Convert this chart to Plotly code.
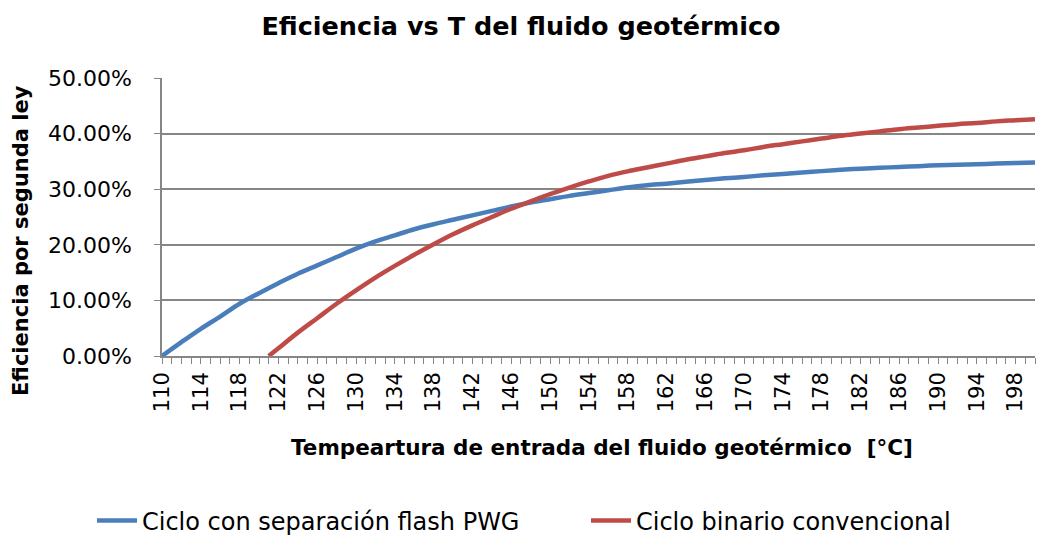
import numpy as np
import plotly.graph_objects as go

# temperatures (°C) and second-law efficiencies (%)
temp_flash = list(range(110, 201, 2))
eff_flash = [
    0.0, 2.5, 4.9, 7.1, 9.4, 11.3, 13.1, 14.8, 16.3, 17.8,
    19.3, 20.6, 21.7, 22.8, 23.7, 24.5, 25.3, 26.1, 26.9, 27.6,
    28.2, 28.8, 29.3, 29.8, 30.3, 30.7, 31.0, 31.35, 31.65, 31.95,
    32.2, 32.5, 32.75, 33.0, 33.25, 33.5, 33.7, 33.85, 34.0, 34.15,
    34.3, 34.4, 34.5, 34.6, 34.7, 34.8,
]

temp_binary = [121] + list(range(122, 201, 2))
eff_binary = [
    0.0, 1.4, 4.2, 6.8, 9.4, 11.8, 14.1, 16.2, 18.2, 20.1,
    21.9, 23.5, 25.0, 26.5, 27.8, 29.1, 30.3, 31.4, 32.4, 33.2,
    33.9, 34.6, 35.3, 35.9, 36.5, 37.0, 37.6, 38.1, 38.6, 39.1,
    39.6, 40.0, 40.4, 40.8, 41.1, 41.4, 41.7, 41.9, 42.2, 42.4,
    42.6,
]

BLUE = "#4A7EBB"
RED = "#BE4B48"
GRID = "#868686"
FONT = "DejaVu Sans"

L, R, T, B = 162, 9, 78, 181
PW = 1044 - L - R
PH = 537 - T - B

fig = go.Figure()
fig.add_scatter(
    x=temp_flash, y=np.array(eff_flash) / 100, name="Ciclo con separación flash PWG",
    mode="lines", line=dict(color=BLUE, width=4.5, shape="spline"), legend="legend",
)
fig.add_scatter(
    x=temp_binary, y=np.array(eff_binary) / 100, name="Ciclo binario convencional",
    mode="lines", line=dict(color=RED, width=4.5, shape="spline"), legend="legend2",
)

legend_style = dict(orientation="h", yanchor="middle", xanchor="left", y=(356 - 521) / PH,
                    font=dict(size=24), itemwidth=40, bgcolor="rgba(0,0,0,0)")

fig.update_layout(
    width=1044, height=537,
    template="plotly_white",
    paper_bgcolor="white", plot_bgcolor="white",
    font=dict(family=FONT, size=21, color="black"),
    margin=dict(l=L, r=R, t=T, b=B, autoexpand=False),
    title=dict(text="<b>Eficiencia vs T del fluido geotérmico</b>", x=521 / 1044, xref="container",
               xanchor="center", y=1 - 26 / 537, yanchor="middle", font=dict(size=25.5)),
    legend=dict(x=(92 - L) / PW, **legend_style),
    legend2=dict(x=(586 - L) / PW, **legend_style),
    showlegend=True,
)
fig.update_xaxes(
    range=[110, 200], tickmode="linear", tick0=110, dtick=4, tickangle=-90,
    showgrid=False, showline=True, linecolor=GRID, linewidth=1.5,
    ticks="outside", ticklen=6, tickcolor=GRID, automargin=False,
    minor=dict(dtick=1, ticks="outside", ticklen=6, tickcolor=GRID, showgrid=False),
    zeroline=False,
)
fig.update_yaxes(
    range=[0, 0.5], dtick=0.1, tickformat=".2%", tickfont=dict(size=22),
    ticklabelstandoff=18,
    showgrid=True, gridcolor=GRID, gridwidth=1.5, automargin=False,
    showline=True, linecolor=GRID, linewidth=1.5,
    ticks="outside", ticklen=6, tickcolor=GRID, zeroline=False,
)

fig.add_annotation(text="<b>Tempeartura de entrada del fluido geotérmico  [°C]</b>",
                   x=(602 - L) / PW, y=(356 - 447) / PH, xref="paper", yref="paper",
                   showarrow=False, font=dict(size=21.5), xanchor="center", yanchor="middle")
fig.add_annotation(text="<b>Eficiencia por segunda ley</b>", textangle=-90,
                   x=(21 - L) / PW, y=(356 - 241) / PH, xref="paper", yref="paper",
                   showarrow=False, font=dict(size=21), xanchor="center", yanchor="middle")

# drop the browser's default 8px body margin so the figure sits at the page corner
fig.write_html("out.html", config={"displayModeBar": False},
               post_script="document.body.style.margin='0';")
